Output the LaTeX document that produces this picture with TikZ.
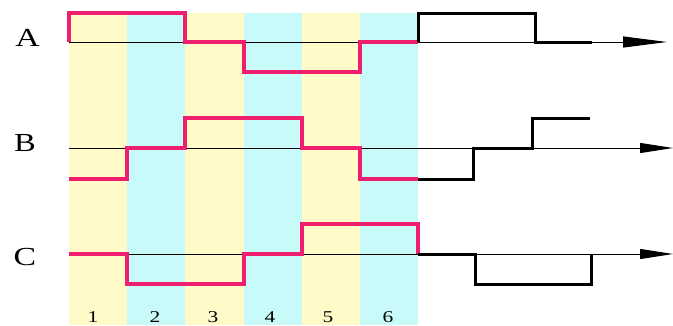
\documentclass[tikz,border=0pt]{standalone}
\usepackage{fontspec}
\setmainfont{Liberation Serif}
\usetikzlibrary{arrows.meta}
\definecolor{wpink}{RGB}{240,30,110}
\definecolor{colyel}{RGB}{255,250,200}
\definecolor{colcyan}{RGB}{200,250,250}
\tikzset{
  axisline/.style={draw=black,line width=1pt},
  pinkwave/.style={draw=wpink,line width=3.2pt,line join=miter},
  blackwave/.style={draw=black,line width=3pt,line join=miter},
  bigtip/.style={-{Triangle[length=44pt,width=11pt]}},
  smalltip/.style={-{Triangle[length=33pt,width=10pt]}},
  siglabel/.style={inner sep=0pt,font=\fontsize{26}{26}\selectfont},
  numlabel/.style={inner sep=0pt,font=\fontsize{16.5}{16.5}\selectfont}
}
\begin{document}
\begin{tikzpicture}[x=1pt,y=-1pt]
\useasboundingbox (0,0) rectangle (673,325);
\fill[white] (0,0) rectangle (673,325);
% columns
\fill[colyel]  (69,13) rectangle (127,325);
\fill[colcyan] (127,13) rectangle (185,325);
\fill[colyel]  (185,13) rectangle (244,325);
\fill[colcyan] (244,13) rectangle (302,325);
\fill[colyel]  (302,13) rectangle (360,325);
\fill[colcyan] (360,13) rectangle (418,325);
% axes
\coordinate (a0) at (69,42);  \coordinate (a1) at (667,42);
\coordinate (b0) at (69,148); \coordinate (b1) at (673,148);
\coordinate (c0) at (69,254); \coordinate (c1) at (673,254);
\draw[axisline,bigtip] (a0) -- (a1);
\draw[axisline,smalltip] (b0) -- (b1);
\draw[axisline,smalltip] (c0) -- (c1);
% waveform A
\draw[pinkwave] (69,42) -- (69,13) -- (185,13) -- (185,42) -- (244,42) -- (244,72) -- (360,72) -- (360,42) -- (418,42);
\draw[blackwave] (418,42) -- (418,13) -- (535,13) -- (535,42) -- (592,42);
% waveform B
\draw[pinkwave] (69,179) -- (127,179) -- (127,148) -- (185,148) -- (185,118) -- (302,118) -- (302,148) -- (360,148) -- (360,179) -- (418,179);
\draw[blackwave] (418,179) -- (473,179) -- (473,148) -- (532,148) -- (532,118) -- (590,118);
% waveform C
\draw[pinkwave] (69,254) -- (127,254) -- (127,284) -- (244,284) -- (244,254) -- (302,254) -- (302,224) -- (418,224) -- (418,254);
\draw[blackwave] (418,254) -- (475,254) -- (475,284) -- (591,284) -- (591,254);
% labels
\node[siglabel] (lA) at (27.5,37.5) {\scalebox{1.3}[1]{A}};
\node[siglabel] (lB) at (25,143.5) {\scalebox{1.25}[1]{B}};
\node[siglabel] (lC) at (25,257) {\scalebox{1.3}[1]{C}};
\node[numlabel] (n1) at (93,317)  {\scalebox{1.3}[1]{1}};
\node[numlabel] (n2) at (155,317) {\scalebox{1.3}[1]{2}};
\node[numlabel] (n3) at (213,317) {\scalebox{1.3}[1]{3}};
\node[numlabel] (n4) at (270,317) {\scalebox{1.3}[1]{4}};
\node[numlabel] (n5) at (328,317) {\scalebox{1.3}[1]{5}};
\node[numlabel] (n6) at (388,317) {\scalebox{1.3}[1]{6}};
\end{tikzpicture}
\end{document}
